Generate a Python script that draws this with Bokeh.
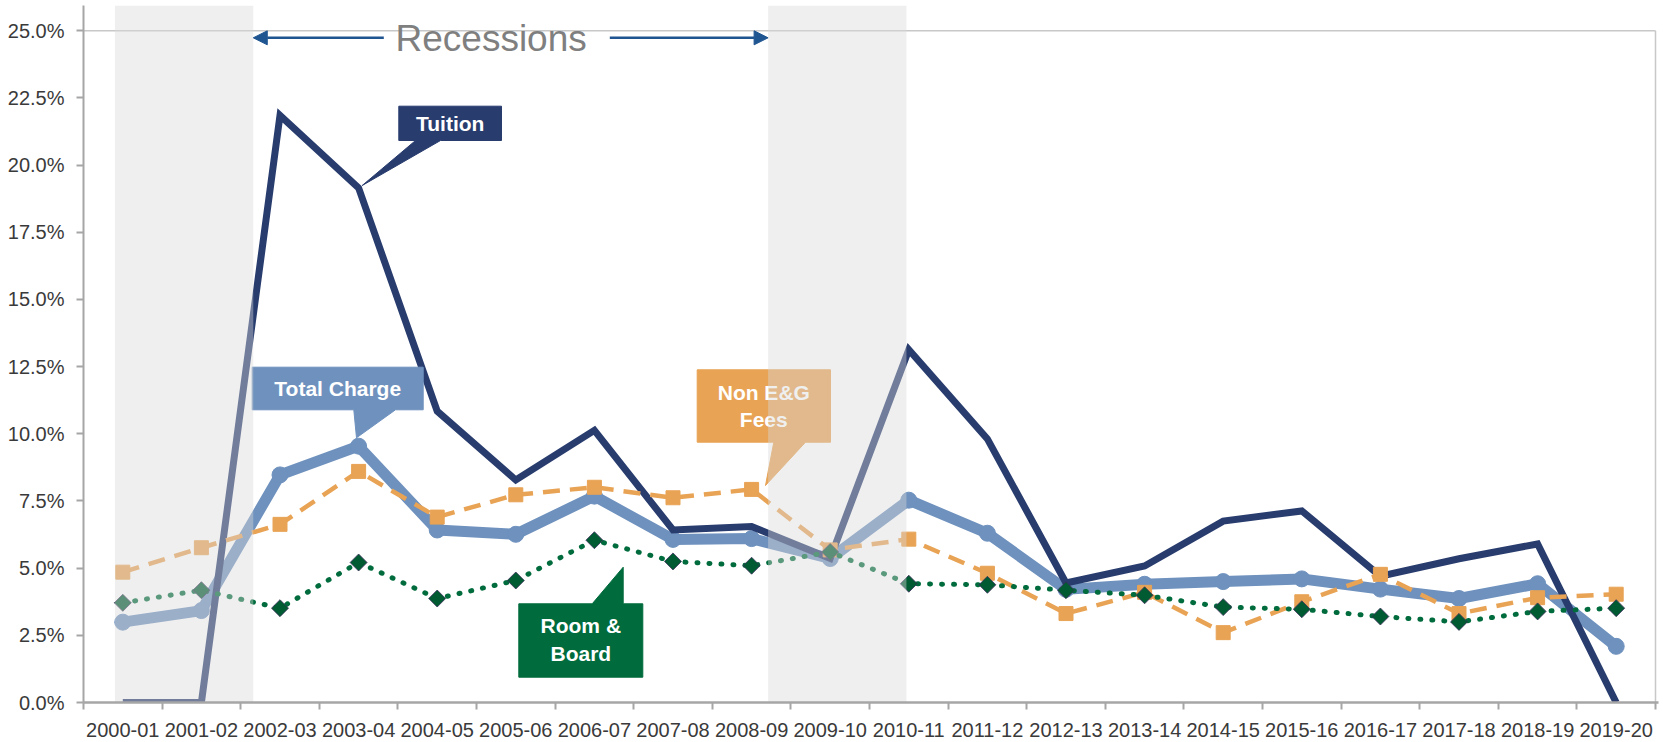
import numpy as np
from bokeh.plotting import figure
from bokeh.models import (Range1d, FixedTicker, PrintfTickFormatter, Arrow, NormalHead)
from bokeh.core.properties import value
from bokeh.embed import file_html
from bokeh.resources import INLINE

# ---------------- data ----------------
years = ["2000-01", "2001-02", "2002-03", "2003-04", "2004-05", "2005-06", "2006-07",
         "2007-08", "2008-09", "2009-10", "2010-11", "2011-12", "2012-13", "2013-14",
         "2014-15", "2015-16", "2016-17", "2017-18", "2018-19", "2019-20"]
tuition = [0.0, 0.0, 21.85, 19.15, 10.84, 8.28, 10.13, 6.42, 6.55, 5.36, 13.13, 9.81,
           4.45, 5.08, 6.75, 7.13, 4.7, 5.35, 5.9, 0.0]
total_charge = [2.99, 3.42, 8.47, 9.54, 6.42, 6.26, 7.68, 6.07, 6.1, 5.36, 7.53, 6.3,
                4.21, 4.4, 4.5, 4.6, 4.22, 3.87, 4.42, 2.09]
non_eg_fees = [4.85, 5.76, 6.63, 8.6, 6.9, 7.73, 8.01, 7.62, 7.93, 5.68, 6.08, 4.81,
               3.31, 4.1, 2.6, 3.75, 4.77, 3.31, 3.9, 4.03]
room_board = [3.71, 4.18, 3.51, 5.21, 3.87, 4.54, 6.04, 5.25, 5.09, 5.6, 4.42, 4.38,
              4.18, 3.99, 3.55, 3.47, 3.2, 3.0, 3.39, 3.51]
recessions = [(0.40, 2.16), (8.71, 10.47)]
y_ticks = [0.0, 2.5, 5.0, 7.5, 10.0, 12.5, 15.0, 17.5, 20.0, 22.5, 25.0]

NAVY = "#283C6E"
STEEL = "#6E91BE"
ORANGE = "#E8A355"
GREEN = "#006B3C"
FONT = "Liberation Sans"

# ---------------- geometry helpers (screen px -> data) ----------------
FRAME_L, FRAME_T, FRAME_B = 83.0, 5.0, 702.0
PX_X, PX_Y = 78.6, 26.87
def dx(sx):
    return (sx - FRAME_L) / PX_X
def dy(sy):
    return (FRAME_B - sy) / PX_Y

n = len(years)
xc = [i + 0.5 for i in range(n)]
frame_h = FRAME_B - FRAME_T

p = figure(width=1660, height=742, output_backend="svg", toolbar_location=None,
           x_range=Range1d(0, 1575 / PX_X), y_range=Range1d(0, frame_h / PX_Y),
           min_border_left=83, min_border_right=2, min_border_top=5, min_border_bottom=40)
p.outline_line_color = None
p.xgrid.visible = False
p.ygrid.visible = False
p.background_fill_color = "white"
p.border_fill_color = "white"

# ---------------- axes ----------------
AX_COL = "#A6A6A6"
p.yaxis.ticker = FixedTicker(ticks=y_ticks)
p.yaxis.formatter = PrintfTickFormatter(format="%.1f%%")
p.yaxis.axis_line_color = AX_COL
p.yaxis.axis_line_width = 2
p.yaxis.major_tick_line_color = AX_COL
p.yaxis.major_tick_line_width = 2
p.yaxis.major_tick_out = 7
p.yaxis.major_tick_in = 0
p.yaxis.minor_tick_line_color = None
p.yaxis.major_label_standoff = 12
p.yaxis.major_label_text_font = FONT
p.yaxis.major_label_text_font_size = "20px"
p.yaxis.major_label_text_color = "#3A3A3A"

p.xaxis.ticker = FixedTicker(ticks=xc, minor_ticks=list(range(n + 1)))
p.xaxis.major_label_overrides = {float(x): y for x, y in zip(xc, years)}
p.xaxis.axis_line_color = AX_COL
p.xaxis.axis_line_width = 2.5
p.xaxis.major_tick_line_color = None
p.xaxis.major_tick_out = 7
p.xaxis.major_tick_in = 0
p.xaxis.minor_tick_line_color = AX_COL
p.xaxis.minor_tick_line_width = 2
p.xaxis.minor_tick_out = 7
p.xaxis.minor_tick_in = 0
p.xaxis.major_label_standoff = 13
p.xaxis.major_label_text_font = FONT
p.xaxis.major_label_text_font_size = "20px"
p.xaxis.major_label_text_color = "#3A3A3A"

# plot-area border (top at 25 %, right at last category boundary)
p.segment(x0=[0, n], y0=[25, 0], x1=[n, n], y1=[25, 25], line_color="#C8C8C8", line_width=1.5)

# ---------------- series ----------------
p.line(xc, total_charge, line_color=STEEL, line_width=11, line_join="round")
p.scatter(xc, total_charge, marker="circle", size=16, fill_color=STEEL, line_color=STEEL)

p.line(xc, tuition, line_color=NAVY, line_width=7, line_join="miter")

p.line(xc, non_eg_fees, line_color=ORANGE, line_width=4.5, line_dash="17 10")
p.scatter(xc, non_eg_fees, marker="square", size=14, fill_color=ORANGE, line_color=ORANGE)

p.line(xc, room_board, line_color=GREEN, line_width=5, line_dash="1 11", line_cap="round")
p.scatter(xc, room_board, marker="square", angle=np.pi / 4, size=12,
          fill_color="#005A32", line_color="#3B2F5A", line_width=0.8)

# ---------------- callouts ----------------
def callout(pts, color):
    p.patch([dx(a) for a, b in pts], [dy(b) for a, b in pts], fill_color=color,
            line_color=color, line_width=1)

def label(sx, sy, txt, size="21px"):
    p.text([dx(sx)], [dy(sy)], text=[txt], text_color="white", text_font=value(FONT),
           text_font_style="bold", text_font_size=size, text_align="center",
           text_baseline="middle")

# Tuition
callout([(398.3, 105.7), (501, 105.7), (501, 140), (440, 140), (361.7, 185), (415, 140),
         (398.3, 140)], NAVY)
label(449.7, 123, "Tuition")
# Total Charge
callout([(251.7, 366.7), (422.7, 366.7), (422.7, 409.3), (395, 409.3), (356, 437.3),
         (353.3, 409.3), (251.7, 409.3)], STEEL)
label(337.2, 388.3, "Total Charge")
# Non E&G Fees
callout([(696.7, 369.3), (830, 369.3), (830, 441.7), (805, 441.7), (765, 485),
         (773.3, 441.7), (696.7, 441.7)], ORANGE)
label(763.3, 391.7, "Non E&G")
label(763.3, 419, "Fees")
# Room & Board
callout([(518.3, 603.3), (591.7, 603.3), (622.7, 566.7), (622.7, 603.3), (642.3, 603.3),
         (642.3, 676.7), (518.3, 676.7)], GREEN)
label(580.3, 625, "Room &")
label(580.3, 652.7, "Board")

# ---------------- recession bands (translucent, on top) ----------------
y_top = frame_h / PX_Y
p.quad(left=[a for a, b in recessions], right=[b for a, b in recessions],
       bottom=[0, 0], top=[y_top, y_top], fill_color="#D9D9D9", fill_alpha=0.42,
       line_color=None)

# ---------------- "Recessions" annotation ----------------
ARROW_COL = "#1F5591"
ay = dy(37.3)
p.add_layout(Arrow(end=NormalHead(size=14, fill_color=ARROW_COL, line_color=ARROW_COL),
                   x_start=dx(383.3), y_start=ay, x_end=recessions[0][1], y_end=ay,
                   line_color=ARROW_COL, line_width=2.5))
p.add_layout(Arrow(end=NormalHead(size=14, fill_color=ARROW_COL, line_color=ARROW_COL),
                   x_start=dx(609.3), y_start=ay, x_end=recessions[1][0], y_end=ay,
                   line_color=ARROW_COL, line_width=2.5))
p.text([dx(395)], [dy(37.5)], text=["Recessions"], text_color="#7F7F7F",
       text_font=value(FONT), text_font_size="37px", text_align="left",
       text_baseline="middle")

open("out.html", "w").write(file_html(p, INLINE))
